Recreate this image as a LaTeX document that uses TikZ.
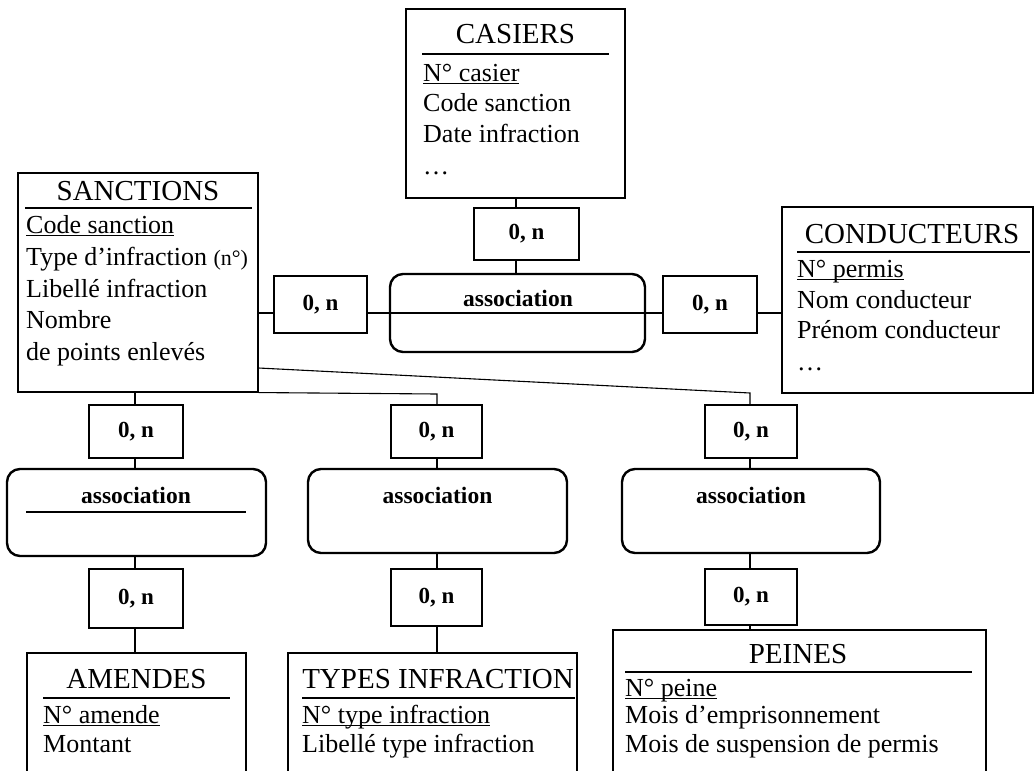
\documentclass[tikz,border=0pt]{standalone}
\usepackage{fontspec}
\setmainfont{Liberation Serif}
\newcommand{\uln}[1]{\setbox0\hbox{#1}\rlap{\rule[-3.2pt]{\wd0}{1pt}}\box0}
\begin{document}
\begin{tikzpicture}[x=1pt,y=-1pt,
  ent/.style={draw, line width=1.1pt, inner sep=0pt},
  card/.style={draw, line width=1.1pt, fill=white, inner sep=0pt, font=\fontsize{23}{27}\selectfont\bfseries},
  assoc/.style={draw, line width=2.4pt, rounded corners=13pt, inner sep=0pt},
  ttl/.style={anchor=base, inner sep=0pt, font=\fontsize{29}{34}\selectfont},
  attr/.style={anchor=base west, inner sep=0pt, font=\fontsize{26}{31}\selectfont},
  atxt/.style={anchor=base, inner sep=0pt, font=\fontsize{23.5}{28}\selectfont\bfseries},
  conn/.style={line width=1.1pt},
  sep/.style={line width=1.1pt},
]
\clip (0,0) rectangle (1034,771);
\useasboundingbox (0,0) rectangle (1034,771);

% ---------- entities ----------
\node[ent, minimum width=219pt, minimum height=189pt] (casiers) at (515.5,103.5) {};
\node[ttl] (casiersT) at (515.5,43) {CASIERS};
\draw[sep] (422,54) -- (609,54);
\node[attr] (cas1) at (423,81) {\uln{N° casier}};
\node[attr] (cas2) at (423,111) {Code sanction};
\node[attr] (cas3) at (423,142) {Date infraction};
\node[attr] (cas4) at (423,174) {…};

\node[ent, minimum width=240pt, minimum height=219pt] (sanctions) at (138,282.5) {};
\node[ttl] (sanctionsT) at (138,200) {SANCTIONS};
\draw[sep] (25,208) -- (252,208);
\node[attr] (san1) at (26,233) {\uln{Code sanction}};
\node[attr] (san2) at (26,265) {Type d’infraction {\fontsize{22}{26}\selectfont(n°)}};
\node[attr] (san3) at (26,297) {Libellé infraction};
\node[attr] (san4) at (26,328) {Nombre};
\node[attr] (san5) at (26,360) {de points enlevés};

\node[ent, minimum width=251pt, minimum height=186pt] (conducteurs) at (907.5,300) {};
\node[ttl] (conducteursT) at (912,243) {CONDUCTEURS};
\draw[sep] (797,252) -- (1030,252);
\node[attr] (con1) at (797,277) {\uln{N° permis}};
\node[attr] (con2) at (797,308) {Nom conducteur};
\node[attr] (con3) at (797,338) {Prénom conducteur};
\node[attr] (con4) at (797,370) {…};

\node[ent, minimum width=219pt, minimum height=137pt] (amendes) at (136.5,721.5) {};
\node[ttl] (amendesT) at (136.5,688) {AMENDES};
\draw[sep] (43,698) -- (230,698);
\node[attr] (ame1) at (43,723) {\uln{N° amende}};
\node[attr] (ame2) at (43,752) {Montant};

\node[ent, minimum width=289pt, minimum height=137pt] (types) at (432.5,721.5) {};
\node[ttl] (typesT) at (438,688) {TYPES INFRACTION};
\draw[sep] (302,698) -- (575,698);
\node[attr] (typ1) at (302,723) {\uln{N° type infraction}};
\node[attr] (typ2) at (302,752) {Libellé type infraction};

\node[ent, minimum width=373pt, minimum height=160pt] (peines) at (799.5,710) {};
\node[ttl] (peinesT) at (798,663) {PEINES};
\draw[sep] (625,672) -- (972,672);
\node[attr] (pei1) at (625,696) {\uln{N° peine}};
\node[attr] (pei2) at (625,723) {Mois d’emprisonnement};
\node[attr] (pei3) at (625,752) {Mois de suspension de permis};

% ---------- associations ----------
\node[assoc, minimum width=255pt, minimum height=78pt] (a0) at (517.5,313) {};
\node[atxt] (a0T) at (518,306) {association};
\node[assoc, minimum width=259pt, minimum height=87pt] (aL) at (136.5,512.5) {};
\node[atxt] (aLT) at (136,503) {association};
\draw[sep] (26,512) -- (246,512);
\node[assoc, minimum width=259pt, minimum height=84pt] (aM) at (437.5,511) {};
\node[atxt] (aMT) at (437.5,503) {association};
\node[assoc, minimum width=258pt, minimum height=84pt] (aR) at (751,511) {};
\node[atxt] (aRT) at (751,503) {association};

% ---------- cardinalities ----------
\node[card, minimum width=105pt, minimum height=52pt] (c1) at (526.5,234) {0, n};
\node[card, minimum width=93pt, minimum height=57pt] (cL) at (320.5,304.5) {0, n};
\node[card, minimum width=94pt, minimum height=57pt] (cR) at (710,304.5) {0, n};
\node[card, minimum width=94pt, minimum height=53pt] (cL1) at (136,431.5) {0, n};
\node[card, minimum width=94pt, minimum height=59pt] (cL2) at (136,598.5) {0, n};
\node[card, minimum width=91pt, minimum height=53pt] (cM1) at (436.5,431.5) {0, n};
\node[card, minimum width=91pt, minimum height=57pt] (cM2) at (436.5,597.5) {0, n};
\node[card, minimum width=92pt, minimum height=53pt] (cR1) at (751,431.5) {0, n};
\node[card, minimum width=92pt, minimum height=56pt] (cR2) at (751,597) {0, n};

% ---------- connectors ----------
\coordinate (xC) at (516,0);
\coordinate (yH) at (0,313);
\coordinate (ySl) at (0,368);
\coordinate (xL) at (135,0);
\coordinate (kM) at (437,394);
\coordinate (kR) at (750,393);

\draw[conn] (casiers.south -| xC) -- (c1.north -| xC);
\draw[conn] (c1.south -| xC) -- (a0.north -| xC);

\draw[conn] (sanctions.east |- yH) -- (cL.west |- yH);
\draw[conn] (cL.east |- yH) -- (cR.west |- yH);
\draw[conn] (cR.east |- yH) -- (conducteurs.west |- yH);

\draw[conn] (sanctions.south -| xL) -- (cL1.north -| xL);
\draw[conn] (cL1.south -| xL) -- (aL.north -| xL);
\draw[conn] (aL.south -| xL) -- (cL2.north -| xL);
\draw[conn] (cL2.south -| xL) -- (amendes.north -| xL);

\draw[conn] (sanctions.south east) -- (kM) -- (cM1.north -| kM);
\draw[conn] (cM1.south -| kM) -- (aM.north -| kM);
\draw[conn] (aM.south -| kM) -- (cM2.north -| kM);
\draw[conn] (cM2.south -| kM) -- (types.north -| kM);

\draw[conn] (sanctions.east |- ySl) -- (kR) -- (cR1.north -| kR);
\draw[conn] (cR1.south -| kR) -- (aR.north -| kR);
\draw[conn] (aR.south -| kR) -- (cR2.north -| kR);
\draw[conn] (cR2.south -| kR) -- (peines.north -| kR);
\end{tikzpicture}
\end{document}
